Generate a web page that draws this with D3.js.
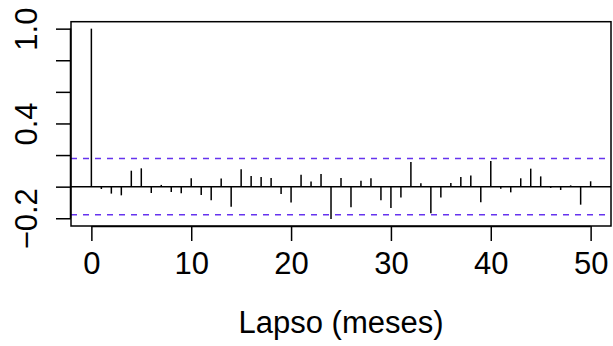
<!DOCTYPE html>
<html>
<head>
<meta charset="utf-8">
<script src="https://cdn.jsdelivr.net/npm/d3@7"></script>
<style>
  html, body { margin: 0; padding: 0; background: #fff; }
  svg { display: block; }
  text { font-family: "Liberation Sans", Arial, sans-serif; fill: #000; }
</style>
</head>
<body>
<svg id="chart" width="613" height="346"></svg>
<script>
// Autocorrelation by lag (months)
const lags = d3.range(0, 51);
const acfValues = [
  1.000, -0.015, -0.044, -0.055, 0.101, 0.116, -0.040, 0.011, -0.034, -0.042,
  0.053, -0.053, -0.086, 0.051, -0.127, 0.110, 0.068, 0.061, 0.055, -0.046,
  -0.101, 0.076, 0.032, 0.080, -0.205, 0.055, -0.131, 0.038, 0.053, -0.086,
  -0.135, -0.068, 0.156, 0.021, -0.169, -0.068, 0.023, 0.061, 0.070, -0.099,
  0.162, -0.013, -0.036, 0.053, 0.114, 0.065, -0.008, -0.021, 0.008, -0.114,
  0.034
];
const confLimit = 0.178;
const xTicks = [0, 10, 20, 30, 40, 50];
const yTicks = [-0.2, 0, 0.2, 0.4, 0.6, 0.8, 1.0];
const yTickLabels = ["\u22120.2", "", "", "0.4", "", "", "1.0"];
const xTitle = "Lapso (meses)";

const svg = d3.select("#chart");
const box = { left: 71, right: 611, top: 21.7, bottom: 226 };
const fontSize = 31;

// R-style 4% padding around the data range
const x = d3.scaleLinear().domain([-2.04, 52.04]).range([box.left, box.right]);
const y = d3.scaleLinear().domain([-0.249, 1.044]).range([box.bottom, box.top]);

const ink = "#000";
const lw = 1.5;

// zero reference line
svg.append("line")
  .attr("x1", box.left).attr("x2", box.right)
  .attr("y1", y(0)).attr("y2", y(0))
  .attr("stroke", ink).attr("stroke-width", lw);

// confidence bounds
[confLimit, -confLimit].forEach(v => {
  svg.append("line")
    .attr("x1", box.left).attr("x2", box.right)
    .attr("y1", y(v)).attr("y2", y(v))
    .attr("stroke", "#6633ee").attr("stroke-width", 1.6)
    .attr("stroke-dasharray", "6,6");
});

// spikes
svg.append("g").selectAll("line")
  .data(lags)
  .join("line")
  .attr("x1", d => x(d)).attr("x2", d => x(d))
  .attr("y1", y(0)).attr("y2", d => y(acfValues[d]))
  .attr("stroke", ink).attr("stroke-width", lw);

// frame
svg.append("rect")
  .attr("x", box.left).attr("y", box.top)
  .attr("width", box.right - box.left).attr("height", box.bottom - box.top)
  .attr("fill", "none").attr("stroke", ink).attr("stroke-width", lw);

const tickLen = 15;

// bottom axis
const xAxis = d3.axisBottom(x).tickValues(xTicks).tickSize(tickLen).tickPadding(11).tickFormat(d3.format("d"));
const gx = svg.append("g").attr("transform", `translate(0,${box.bottom})`).call(xAxis);
gx.select(".domain").attr("d", `M${x(0)},0.5H${x(50)}`).attr("stroke", ink).attr("stroke-width", lw);
gx.selectAll(".tick line").attr("stroke", ink).attr("stroke-width", lw);
gx.selectAll(".tick text")
  .attr("font-size", fontSize).attr("font-family", "Liberation Sans, Arial, sans-serif")
  .attr("fill", ink);

// left axis, labels rotated as in R
const yAxis = d3.axisLeft(y).tickValues(yTicks).tickSize(tickLen)
  .tickFormat((d, i) => yTickLabels[i]);
const gy = svg.append("g").attr("transform", `translate(${box.left},0)`).call(yAxis);
gy.select(".domain").attr("d", `M-0.5,${y(-0.2)}V${y(1.0)}`).attr("stroke", ink).attr("stroke-width", lw);
gy.selectAll(".tick line").attr("stroke", ink).attr("stroke-width", lw);
gy.selectAll(".tick text")
  .attr("font-size", fontSize).attr("font-family", "Liberation Sans, Arial, sans-serif")
  .attr("fill", ink)
  .attr("x", null).attr("dy", null)
  .attr("text-anchor", "middle")
  .attr("transform", "translate(-34,0) rotate(-90)");

// axis title
svg.append("text")
  .attr("x", (box.left + box.right) / 2).attr("y", 333)
  .attr("text-anchor", "middle")
  .attr("font-size", fontSize)
  .text(xTitle);
</script>
</body>
</html>
